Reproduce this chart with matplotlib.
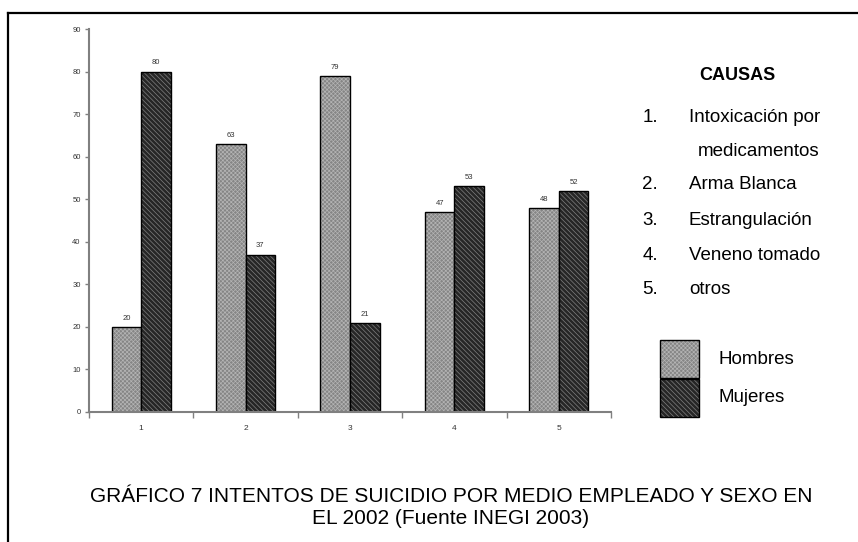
import numpy as np
import matplotlib
matplotlib.use("Agg")
import matplotlib.pyplot as plt
from matplotlib.lines import Line2D
from matplotlib.patches import Rectangle

plt.rcParams["font.family"] = ["Liberation Sans", "DejaVu Sans"]
plt.rcParams["hatch.linewidth"] = 0.5

# ------------------------------------------------------------------
# Datos (INEGI 2003)
# ------------------------------------------------------------------
categorias = ["1", "2", "3", "4", "5"]
hombres = [20, 63, 79, 47, 48]
mujeres = [80, 37, 21, 53, 52]
causas = ["Intoxicación por\nmedicamentos", "Arma Blanca", "Estrangulación",
          "Veneno tomado", "otros"]
series = ["Hombres", "Mujeres"]
titulo = ("GRÁFICO 7 INTENTOS DE SUICIDIO POR MEDIO EMPLEADO Y SEXO EN\n"
          "EL 2002 (Fuente INEGI 2003)")

# estilos: (relleno, color de trama, trama)
ESTILOS = {
    "Hombres": ("#858585", "#b4b4b4", "xxxxxxxx"),
    "Mujeres": ("#262626", "#808080", "\\\\\\\\\\\\\\"),
}
GRIS = "#808080"

fig = plt.figure(figsize=(8.58, 5.42), dpi=100)
ax = fig.add_axes([89 / 858, 1 - 412 / 542, 522 / 858, 383 / 542])

x = np.arange(len(categorias))
w = 0.283


def barras(pos, vals, nombre):
    fc, hc, hatch = ESTILOS[nombre]
    ax.bar(pos, vals, w, color=fc, edgecolor=hc, hatch=hatch, linewidth=0)
    ax.bar(pos, vals, w, fill=False, edgecolor="black", linewidth=1.0)
    for p, v in zip(pos, vals):
        ax.text(p, v + 1.2, f"{v}", ha="center", va="bottom",
                fontsize=5.5, color="#333333")


barras(x - w / 2, hombres, "Hombres")
barras(x + w / 2, mujeres, "Mujeres")

ax.set_xlim(-0.5, len(categorias) - 0.5)
ax.set_ylim(0, 90)
ax.set_yticks(range(0, 91, 10))
ax.set_xticks(x)
ax.set_xticklabels(categorias)
ax.set_xticks(np.arange(-0.5, len(categorias)), minor=True)
ax.tick_params(axis="x", which="major", length=0, labelsize=6,
               labelcolor="#333333", pad=9)
ax.tick_params(axis="x", which="minor", length=4, width=1.0, color=GRIS)
ax.tick_params(axis="y", length=3, width=1.0, color=GRIS, labelsize=5.5,
               labelcolor="#333333", pad=3)
for s in ["top", "right"]:
    ax.spines[s].set_visible(False)
for s in ["left", "bottom"]:
    ax.spines[s].set_color(GRIS)
    ax.spines[s].set_linewidth(1.5)

# leyenda de causas
fig.text(737 / 858, 1 - 75 / 542, "CAUSAS", ha="center", va="center",
         fontsize=13, fontweight="bold")
ys = [118, 185, 220, 255, 289]
for i, (c, yy) in enumerate(zip(causas, ys)):
    fig.text(650 / 858, 1 - yy / 542, f"{i + 1}.", ha="center", va="center",
             fontsize=13.5)
    lineas = c.split("\n")
    fig.text(689 / 858, 1 - yy / 542, lineas[0], ha="left", va="center",
             fontsize=13.5)
    if len(lineas) > 1:
        fig.text(698 / 858, 1 - (yy + 33) / 542, lineas[1], ha="left",
                 va="center", fontsize=13.5)

# leyenda de series
for j, nombre in enumerate(series):
    fc, hc, hatch = ESTILOS[nombre]
    y0 = 1 - (378 + 39 * j) / 542
    fig.add_artist(Rectangle((660 / 858, y0), 39 / 858, 38 / 542,
                             transform=fig.transFigure, facecolor=fc,
                             edgecolor=hc, hatch=hatch, linewidth=0))
    fig.add_artist(Rectangle((660 / 858, y0), 39 / 858, 38 / 542,
                             transform=fig.transFigure, fill=False,
                             edgecolor="black", linewidth=1.0))
    fig.text(718 / 858, y0 + 19 / 542, nombre, ha="left", va="center",
             fontsize=13.5)

fig.text(451 / 858, 1 - 507 / 542, titulo, ha="center", va="center",
         fontsize=15, linespacing=1.2)

# marco
fig.add_artist(Line2D([8 / 858, 8 / 858], [0, 1 - 13 / 542],
                      transform=fig.transFigure, color="black", lw=1.6))
fig.add_artist(Line2D([8 / 858, 1], [1 - 13 / 542, 1 - 13 / 542],
                      transform=fig.transFigure, color="black", lw=1.6))

fig.savefig("out.png", dpi=100)
